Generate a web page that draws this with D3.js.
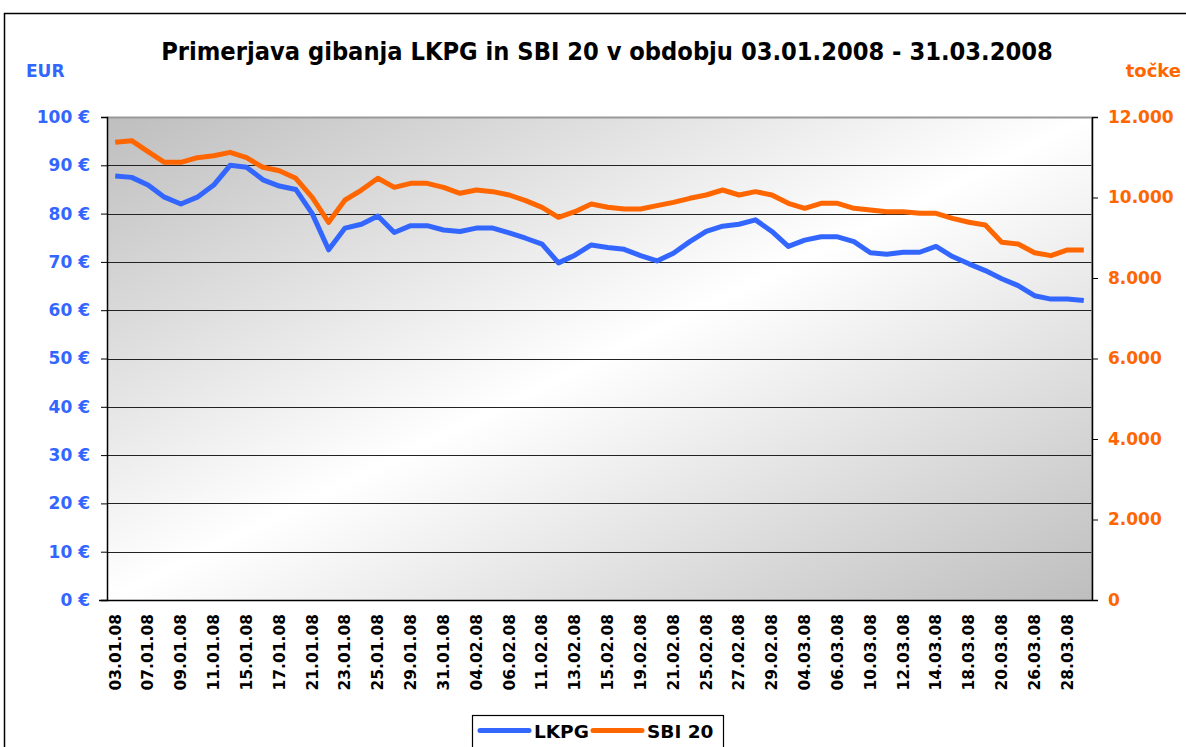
<!DOCTYPE html>
<html>
<head>
<meta charset="utf-8">
<script src="https://cdn.jsdelivr.net/npm/d3@7"></script>
<style>
  body { margin: 0; background: #fff; }
  svg { display: block; }
  text { font-family: "DejaVu Sans", Verdana, sans-serif; font-weight: bold; }
</style>
</head>
<body>
<div id="chart"></div>
<script>
// trading days 03.01.2008 - 31.03.2008
var dates = ["03.01.08","04.01.08","07.01.08","08.01.08","09.01.08","10.01.08","11.01.08","14.01.08","15.01.08","16.01.08",
  "17.01.08","18.01.08","21.01.08","22.01.08","23.01.08","24.01.08","25.01.08","28.01.08","29.01.08","30.01.08",
  "31.01.08","01.02.08","04.02.08","05.02.08","06.02.08","07.02.08","11.02.08","12.02.08","13.02.08","14.02.08",
  "15.02.08","18.02.08","19.02.08","20.02.08","21.02.08","22.02.08","25.02.08","26.02.08","27.02.08","28.02.08",
  "29.02.08","03.03.08","04.03.08","05.03.08","06.03.08","07.03.08","10.03.08","11.03.08","12.03.08","13.03.08",
  "14.03.08","17.03.08","18.03.08","19.03.08","20.03.08","25.03.08","26.03.08","27.03.08","28.03.08","31.03.08"];

// LKPG price in EUR (left axis)
var lkpg = [87.8,87.5,85.9,83.4,82.0,83.4,85.9,90.0,89.6,87.0,
  85.7,85.0,80.0,72.5,77.0,77.8,79.5,76.1,77.5,77.5,
  76.6,76.3,77.0,77.0,76.0,74.9,73.7,69.8,71.4,73.5,
  73.0,72.6,71.3,70.2,71.8,74.2,76.3,77.4,77.8,78.7,
  76.3,73.2,74.5,75.2,75.2,74.2,71.9,71.6,72.0,72.0,
  73.2,71.1,69.6,68.2,66.5,65.1,63.0,62.3,62.3,62.0];

// SBI 20 index points (right axis)
var sbi = [11371,11412,11138,10874,10874,10989,11039,11122,10989,10750,
  10666,10477,10005,9384,9938,10186,10477,10253,10352,10352,
  10253,10104,10186,10145,10062,9921,9756,9508,9648,9839,
  9756,9715,9715,9797,9880,9980,10062,10186,10062,10145,
  10062,9855,9731,9855,9855,9731,9689,9648,9648,9607,
  9607,9482,9384,9317,8886,8845,8629,8555,8696,8696];

var leftTicks = [0,10,20,30,40,50,60,70,80,90,100];
var rightTicks = [0,2000,4000,6000,8000,10000,12000];

var title = "Primerjava gibanja LKPG in SBI 20 v obdobju 03.01.2008 - 31.03.2008";
var blue = "#3366ff", orange = "#ff6600";

var w = 1186, h = 747;
var margin = { top: 117, right: 94, bottom: 147, left: 107 };
var iw = w - margin.left - margin.right;
var ih = h - margin.top - margin.bottom;

var svg = d3.select("#chart").append("svg")
  .attr("width", w)
  .attr("height", h);

// outer frame
svg.append("rect")
  .attr("x", 4.5).attr("y", 13.5)
  .attr("width", 1200).attr("height", 800)
  .attr("fill", "none").attr("stroke", "#000").attr("stroke-width", 1.5);

var defs = svg.append("defs");
var grad = defs.append("linearGradient")
  .attr("id", "bg")
  .attr("x1", 0).attr("y1", 0).attr("x2", 1).attr("y2", 1);
grad.append("stop").attr("offset", 0).attr("stop-color", "#bebebe");
grad.append("stop").attr("offset", 0.5).attr("stop-color", "#ffffff");
grad.append("stop").attr("offset", 1).attr("stop-color", "#bebebe");

var g = svg.append("g")
  .attr("transform", "translate(" + margin.left + "," + margin.top + ")");

var x = d3.scaleBand().domain(dates).range([0, iw]).padding(0);
var yL = d3.scaleLinear().domain([0, 100]).range([ih, 0]);
var yR = d3.scaleLinear().domain([0, 12000]).range([ih, 0]);

g.append("rect")
  .attr("width", iw).attr("height", ih)
  .attr("fill", "url(#bg)");

// gridlines
g.append("g")
  .selectAll("line")
  .data(leftTicks.slice(1))
  .enter()
  .append("line")
  .attr("x1", 0).attr("x2", iw)
  .attr("y1", function(d) { return Math.round(yL(d)) + 0.5; })
  .attr("y2", function(d) { return Math.round(yL(d)) + 0.5; })
  .attr("stroke", function(d) { return d === 100 ? "#999" : "#222"; })
  .attr("stroke-width", function(d) { return d === 100 ? 2 : 1; });

g.append("line")
  .attr("x1", iw).attr("x2", iw).attr("y1", 0).attr("y2", ih)
  .attr("stroke", "#999").attr("stroke-width", 1.5);

// left axis
var axL = g.append("g")
  .call(d3.axisLeft(yL).tickValues(leftTicks).tickSize(6).tickPadding(11)
    .tickFormat(function(d) { return d + " \u20ac"; }));
axL.select(".domain").attr("stroke", "#000").attr("stroke-width", 1.5);
axL.selectAll(".tick line").attr("stroke", "#000");
axL.selectAll("text").attr("fill", blue).style("font-size", "17px");

// right axis
var axR = g.append("g")
  .attr("transform", "translate(" + iw + ",0)")
  .call(d3.axisRight(yR).tickValues(rightTicks).tickSize(6).tickPadding(10)
    .tickFormat(function(d) { return d3.format(",")(d).replace(/,/g, "."); }));
axR.select(".domain").attr("stroke", "#000").attr("stroke-width", 1.5);
axR.selectAll(".tick line").attr("stroke", "#000");
axR.selectAll("text").attr("fill", orange).style("font-size", "17px");

// bottom axis
var axB = g.append("g")
  .attr("transform", "translate(0," + ih + ")")
  .call(d3.axisBottom(x)
    .tickValues(dates.filter(function(d, i) { return i % 2 === 0; }))
    .tickSize(0).tickPadding(0));
axB.select(".domain").attr("stroke", "#000").attr("stroke-width", 1.5)
  .attr("d", "M-8,0.5H" + iw);
axB.selectAll("text")
  .attr("fill", "#000")
  .style("font-size", "15.5px")
  .attr("transform", "rotate(-90)")
  .attr("text-anchor", "end")
  .attr("x", -14).attr("y", 0).attr("dy", "0.35em");

// lines
var lineL = d3.line()
  .x(function(d, i) { return x(dates[i]) + x.bandwidth() / 2; })
  .y(function(d) { return yL(d); });
var lineR = d3.line()
  .x(function(d, i) { return x(dates[i]) + x.bandwidth() / 2; })
  .y(function(d) { return yR(d); });

g.append("path").datum(lkpg)
  .attr("d", lineL)
  .attr("fill", "none").attr("stroke", blue)
  .attr("stroke-width", 5).attr("stroke-linejoin", "round");

g.append("path").datum(sbi)
  .attr("d", lineR)
  .attr("fill", "none").attr("stroke", orange)
  .attr("stroke-width", 5).attr("stroke-linejoin", "round");

// titles
svg.append("text")
  .attr("x", 607).attr("y", 60)
  .attr("text-anchor", "middle")
  .style("font-family", "'DejaVu Sans Condensed', 'DejaVu Sans', sans-serif")
  .style("font-size", "25.2px")
  .attr("fill", "#000")
  .text(title);

svg.append("text")
  .attr("x", 26).attr("y", 77)
  .style("font-size", "17px")
  .attr("fill", blue)
  .text("EUR");

svg.append("text")
  .attr("x", 1181).attr("y", 77)
  .attr("text-anchor", "end")
  .style("font-size", "18px")
  .attr("fill", orange)
  .text("to\u010dke");

// legend
var legend = svg.append("g").attr("transform", "translate(472,715)");
legend.append("rect")
  .attr("x", 0.5).attr("y", 0.5).attr("width", 251).attr("height", 60)
  .attr("fill", "#fff").attr("stroke", "#000").attr("stroke-width", 1.2);

var items = [{ name: "LKPG", color: blue, x: 8 }, { name: "SBI 20", color: orange, x: 121 }];
items.forEach(function(it) {
  legend.append("line")
    .attr("x1", it.x).attr("x2", it.x + 49)
    .attr("y1", 15.5).attr("y2", 15.5)
    .attr("stroke", it.color).attr("stroke-width", 5)
    .attr("stroke-linecap", "round");
  legend.append("text")
    .attr("x", it.x + 54).attr("y", 23)
    .style("font-size", "18.5px")
    .attr("fill", "#000")
    .text(it.name);
});
</script>
</body>
</html>
